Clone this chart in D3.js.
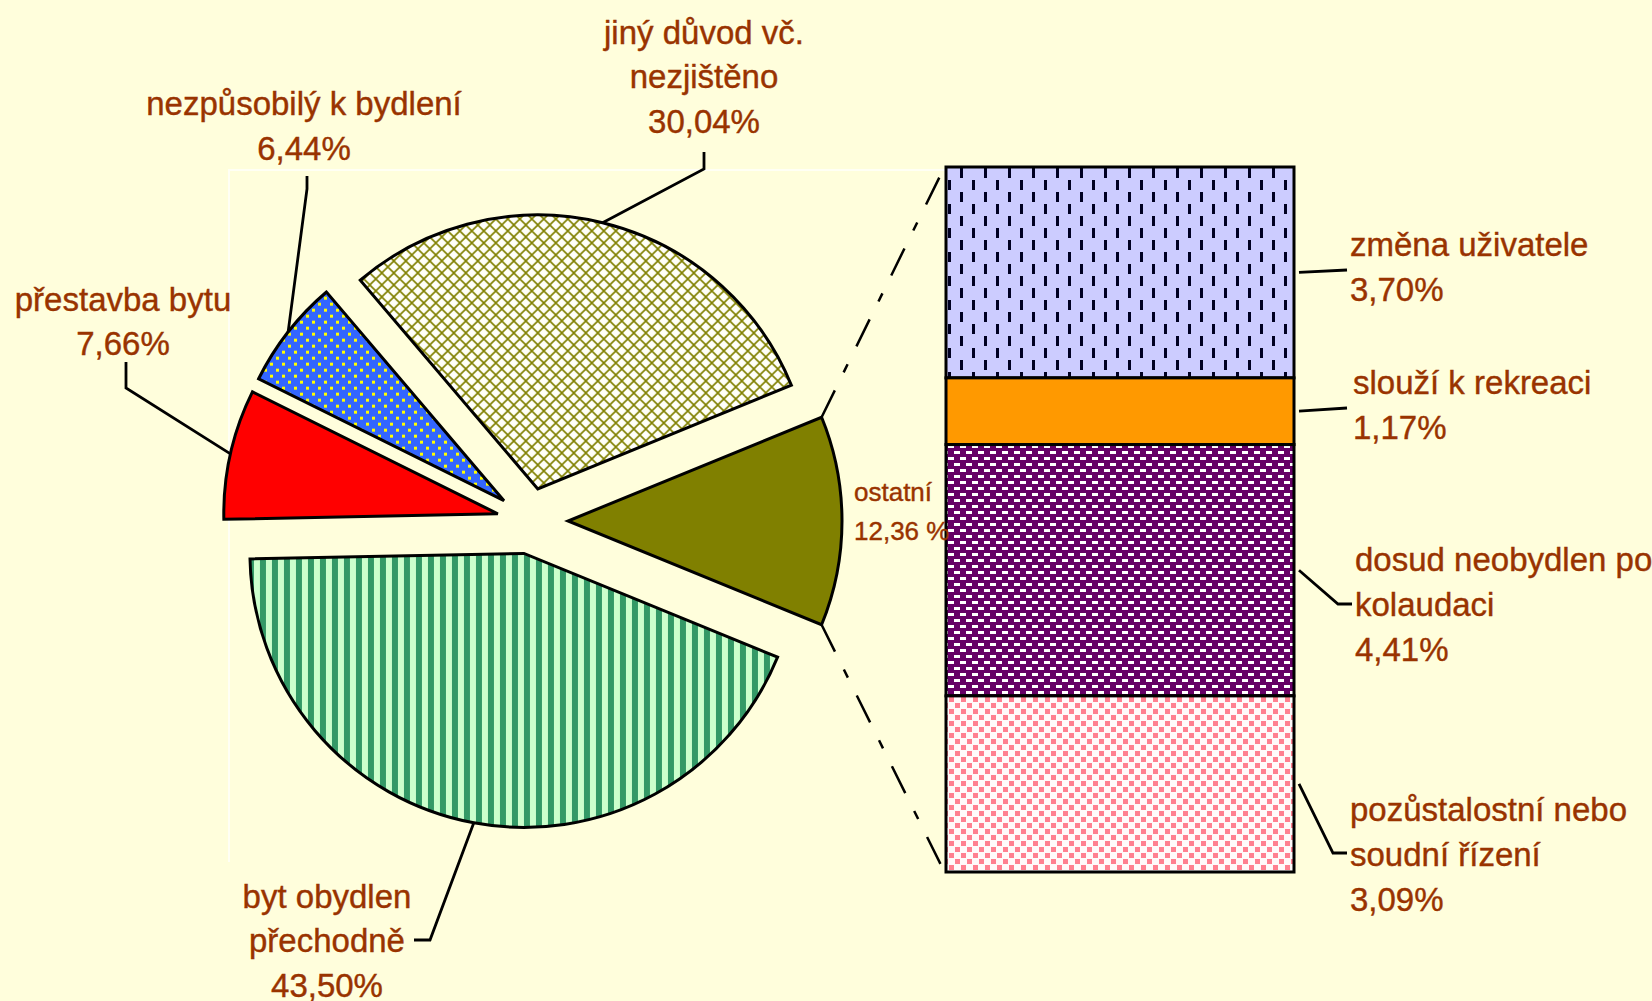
<!DOCTYPE html>
<html><head><meta charset="utf-8">
<script src="https://cdn.jsdelivr.net/npm/d3@7"></script>
<style>html,body{margin:0;padding:0;background:#FFFEDC;} svg{display:block}</style>
</head><body>
<svg id="chart" width="1652" height="1001"></svg>
<script>
// ---------- DATA ----------
const pieCategories = ["ostatní", "byt obydlen přechodně", "přestavba bytu", "nezpůsobilý k bydlení", "jiný důvod vč. nezjištěno"];
const pieValues = [12.36, 43.50, 7.66, 6.44, 30.04];
const pieValueLabels = ["12,36 %", "43,50%", "7,66%", "6,44%", "30,04%"];
const barCategories = ["změna uživatele", "slouží k rekreaci", "dosud neobydlen po kolaudaci", "pozůstalostní nebo soudní řízení"];
const barValues = [3.70, 1.17, 4.41, 3.09];
const barValueLabels = ["3,70%", "1,17%", "4,41%", "3,09%"];

// ---------- LAYOUT ----------
const W = 1652, H = 1001;
const cx = 530, cy = 521, R = 274;
const explode = [38, 33, 33, 33, 33];
const barX0 = 946, barX1 = 1294, barTop = 167, barBottom = 872;
const textColor = "#993300";
const fontFam = "'Liberation Sans', Arial, sans-serif";

const pieFills = ["#808000", "url(#pGreen)", "#FF0000", "url(#pBlue)", "url(#pLattice)"];
const barFills = ["url(#pLav)", "#FF9900", "url(#pPurple)", "url(#pPink)"];

const pieLabelLines = [["ostatní"], ["byt obydlen", "přechodně"], ["přestavba bytu"], ["nezpůsobilý k bydlení"], ["jiný důvod vč.", "nezjištěno"]];
const pieLabelPos = [
  {x: 854, y: 492, anchor: "start", size: 26, lh: 39},
  {x: 327, y: 896, anchor: "middle", size: 33, lh: 44.5},
  {x: 123, y: 299, anchor: "middle", size: 33, lh: 44},
  {x: 304, y: 103, anchor: "middle", size: 33, lh: 45},
  {x: 704, y: 32, anchor: "middle", size: 33, lh: 44.5}
];
// leader polyline points after the arc anchor (elbow, end)
const pieLeaders = [null,
  [[430, 940], [414, 940]],
  [[126, 388], [126, 362]],
  [[307, 189], [307, 176]],
  [[704, 169], [704, 152]]
];
const barLabelLines = [["změna uživatele"], ["slouží k rekreaci"], ["dosud neobydlen po", "kolaudaci"], ["pozůstalostní nebo", "soudní řízení"]];
const barLabelPos = [
  {x: 1350, y: 244}, {x: 1353, y: 382}, {x: 1355, y: 559}, {x: 1350, y: 809}
];
const barLeaders = [
  [[1347, 270]],
  [[1347, 408]],
  [[1338, 604], [1352, 604]],
  [[1333, 853], [1347, 853]]
];

// ---------- SVG ----------
const svg = d3.select("#chart");
const defs = svg.append("defs");

function pattern(id, w, h, bg, shapes) {
  const p = defs.append("pattern").attr("id", id).attr("patternUnits", "userSpaceOnUse")
    .attr("width", w).attr("height", h);
  p.append("rect").attr("width", w).attr("height", h).attr("fill", bg);
  shapes(p);
}
pattern("pLattice", 12, 12, "#FFFFF8", p => {
  p.append("path").attr("d", "M-2,-2L14,14M14,-2L-2,14").attr("stroke", "#808000").attr("stroke-width", 1.6).attr("fill", "none");
});
pattern("pBlue", 12, 12, "#3366FF", p => {
  p.append("rect").attr("x", 0).attr("y", 0).attr("width", 3).attr("height", 3).attr("fill", "#FFFF00");
  p.append("rect").attr("x", 6).attr("y", 6).attr("width", 3).attr("height", 3).attr("fill", "#FFFF00");
});
pattern("pGreen", 12, 12, "#CCFFCC", p => {
  p.append("rect").attr("x", 0).attr("y", 0).attr("width", 6).attr("height", 12).attr("fill", "#339966");
});
pattern("pLav", 24, 24, "#CCCCFF", p => {
  p.append("rect").attr("x", 0).attr("y", 0).attr("width", 3).attr("height", 10).attr("fill", "#000022");
  p.append("rect").attr("x", 12).attr("y", 12).attr("width", 3).attr("height", 10).attr("fill", "#000022");
});
pattern("pPurple", 12, 12, "#660066", p => {
  p.append("rect").attr("x", 0).attr("y", 1).attr("width", 6).attr("height", 3).attr("fill", "#FFFFFF");
  p.append("rect").attr("x", 6).attr("y", 7).attr("width", 6).attr("height", 3).attr("fill", "#FFFFFF");
});
pattern("pPink", 12, 12, "#FFFAFA", p => {
  p.append("rect").attr("x", 1).attr("y", 1).attr("width", 5).attr("height", 5).attr("fill", "#FF8090");
  p.append("rect").attr("x", 7).attr("y", 7).attr("width", 5).attr("height", 5).attr("fill", "#FF8090");
});

// background
svg.append("rect").attr("width", W).attr("height", H).attr("fill", "#FFFEDC");
// faint plot-area border
svg.append("path").attr("d", `M229,862V170H946`).attr("fill", "none")
  .attr("stroke", "#FFFFF4").attr("stroke-width", 2);

// ---------- PIE ----------
const total = d3.sum(pieValues);
const a0 = pieValues[0] / total * 2 * Math.PI;
const start = Math.PI / 2 - a0 / 2;
const pie = d3.pie().sort(null).value(d => d).startAngle(start).endAngle(start + 2 * Math.PI);
const arcs = pie(pieValues);
const arc = d3.arc().innerRadius(0).outerRadius(R);

const apex = (d, i) => {
  const m = (d.startAngle + d.endAngle) / 2;
  return [cx + explode[i] * Math.sin(m), cy - explode[i] * Math.cos(m)];
};
const polar = (p, a, r) => [p[0] + r * Math.sin(a), p[1] - r * Math.cos(a)];

svg.append("g").selectAll("path").data(arcs).join("path")
  .attr("transform", (d, i) => `translate(${apex(d, i)})`)
  .attr("d", arc)
  .attr("fill", (d, i) => pieFills[i])
  .attr("stroke", "#000").attr("stroke-width", 3).attr("stroke-linejoin", "miter");

// ---------- BAR ----------
const barTotal = d3.sum(barValues);
const y = d3.scaleLinear().domain([0, barTotal]).range([barTop, barBottom]);
const cum = barValues.map((v, i) => d3.sum(barValues.slice(0, i)));
svg.append("g").selectAll("rect").data(barValues).join("rect")
  .attr("x", barX0).attr("width", barX1 - barX0)
  .attr("y", (d, i) => y(cum[i])).attr("height", d => y(d) - y(0))
  .attr("fill", (d, i) => barFills[i])
  .attr("stroke", "#000").attr("stroke-width", 3);

// connectors from "ostatní" slice to bar
const o = arcs[0], oA = apex(o, 0);
const topC = polar(oA, o.startAngle, R), botC = polar(oA, o.endAngle, R);
svg.append("g").selectAll("line").data([[topC, [barX0 - 3, y(0) + 3]], [botC, [barX0 - 3, y(barTotal) - 3]]]).join("line")
  .attr("x1", d => d[0][0]).attr("y1", d => d[0][1]).attr("x2", d => d[1][0]).attr("y2", d => d[1][1])
  .attr("stroke", "#000").attr("stroke-width", 2.5).attr("stroke-dasharray", "30,20,9,20");

// ---------- LEADERS ----------
const line = d3.line();
const lg = svg.append("g").attr("fill", "none").attr("stroke", "#000").attr("stroke-width", 2.8);
arcs.forEach((d, i) => {
  if (!pieLeaders[i]) return;
  const m = (d.startAngle + d.endAngle) / 2;
  const p0 = polar(apex(d, i), m, R);
  lg.append("path").attr("d", line([p0, ...pieLeaders[i]]));
});
barValues.forEach((v, i) => {
  const p0 = [barX1 + 5, y(cum[i] + v / 2)];
  lg.append("path").attr("d", line([p0, ...barLeaders[i]]));
});

// ---------- LABELS ----------
const tg = svg.append("g").attr("fill", textColor).attr("font-family", fontFam)
  .attr("stroke", textColor).attr("stroke-width", 0.4);
function label(pos, lines, size, lh, anchor) {
  const t = tg.append("text").attr("font-size", size).attr("text-anchor", anchor);
  lines.forEach((s, k) => {
    t.append("tspan").attr("x", pos.x).attr("y", pos.y + k * lh).attr("dy", "0.36em").text(s);
  });
}
pieCategories.forEach((c, i) => {
  const p = pieLabelPos[i];
  label(p, [...pieLabelLines[i], pieValueLabels[i]], p.size, p.lh, p.anchor);
});
barCategories.forEach((c, i) => {
  label(barLabelPos[i], [...barLabelLines[i], barValueLabels[i]], 33, 45, "start");
});
</script>
</body></html>
